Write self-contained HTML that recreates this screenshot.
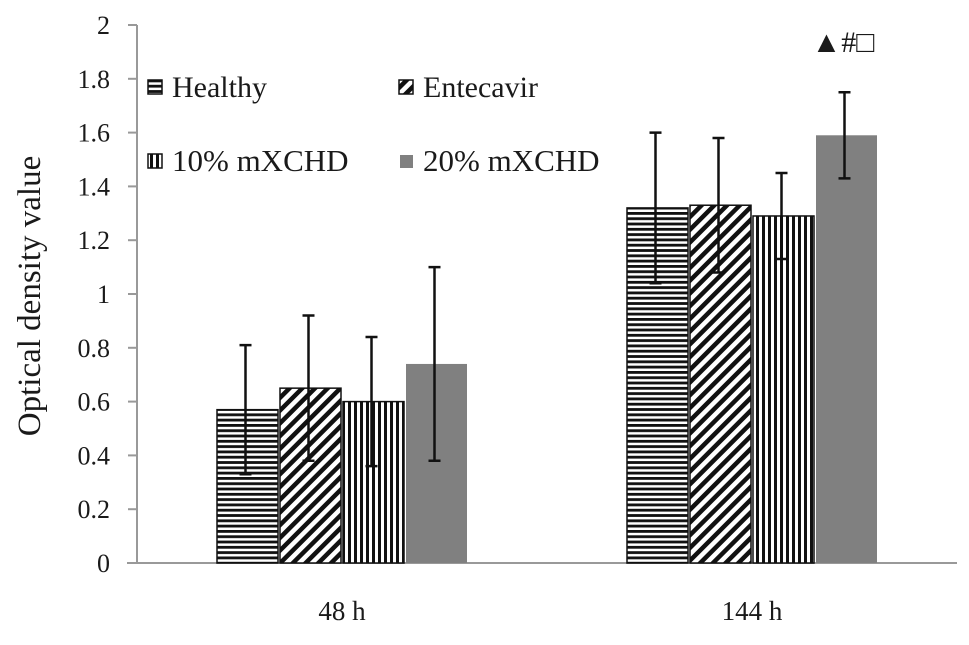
<!DOCTYPE html>
<html><head><meta charset="utf-8"><style>
body{margin:0;background:#fff}
svg text{font-family:"Liberation Serif",serif;fill:#1a1a1a}
</style></head><body>
<svg id="chart" width="969" height="640" xmlns="http://www.w3.org/2000/svg">
<defs>
<pattern id="pH" width="6" height="5.3" patternUnits="userSpaceOnUse"><rect width="6" height="5.3" fill="#fff"/><rect width="6" height="2.8" fill="#111"/></pattern>
<pattern id="pD" width="9" height="9" patternUnits="userSpaceOnUse" patternTransform="rotate(45)"><rect width="9" height="9" fill="#fff"/><rect width="4.5" height="9" fill="#111"/></pattern>
<pattern id="pV" width="6" height="6" patternUnits="userSpaceOnUse"><rect width="6" height="6" fill="#fff"/><rect width="3" height="6" fill="#111"/></pattern>
</defs>
<g id="axes"></g><g id="bars"></g>
<text transform="translate(40,296) rotate(-90)" text-anchor="middle" font-size="33">Optical density value</text>
<text x="843" y="52" text-anchor="middle" font-size="30">▲#□</text>
<g>
<rect x="148" y="80" width="14" height="14" fill="url(#pH)" stroke="#111" stroke-width="1.5"/>
<text x="172" y="97" font-size="30">Healthy</text>
<rect x="399" y="80" width="14" height="14" fill="url(#pD)" stroke="#111" stroke-width="1.5"/>
<text x="423" y="97" font-size="30">Entecavir</text>
<rect x="148" y="154" width="14" height="14" fill="url(#pV)" stroke="#111" stroke-width="1.5"/>
<text x="172" y="171" font-size="31">10% mXCHD</text>
<rect x="400" y="155" width="13" height="13" fill="#808080"/>
<text x="423" y="171" font-size="31">20% mXCHD</text>
</g>
</svg>
<script>
const categories=["48 h","144 h"];
const healthy=[0.57,1.32];
const entecavir=[0.65,1.33];
const mx10=[0.60,1.29];
const mx20=[0.74,1.59];
const errHealthy=[0.24,0.28];
const errEntecavir=[0.27,0.25];
const errMx10=[0.24,0.16];
const errMx20=[0.36,0.16];
const yTicks=[0,0.2,0.4,0.6,0.8,1,1.2,1.4,1.6,1.8,2];
const tickLabels=["0","0.2","0.4","0.6","0.8","1","1.2","1.4","1.6","1.8","2"];

const NS="http://www.w3.org/2000/svg";
const y0=563,yTop=25,xL=137,band=410;
const y=v=>y0-(v-0)/(2-0)*(y0-yTop);
const xc=i=>xL+band*i+band/2;
function mk(t,a,p){const e=document.createElementNS(NS,t);for(const k in a)e.setAttribute(k,a[k]);p.appendChild(e);return e;}
const ax=document.getElementById('axes');
const yl=mk('line',{x1:xL,y1:yTop,x2:xL,y2:y0,stroke:'#999','stroke-width':2},ax);


const xl=mk('line',{x1:xL-10,y1:y0,x2:957,y2:y0,stroke:'#999','stroke-width':2},ax);


yTicks.forEach((v,i)=>{
  const tk=mk('line',{x1:xL-9,y1:y(v),x2:xL,y2:y(v),stroke:'#999','stroke-width':2},ax);
  
  
  const t=mk('text',{x:110,y:y(v)+9,'text-anchor':'end','font-size':26},ax);
  t.textContent=tickLabels[i];
  
  
});
categories.forEach((c,i)=>{
  const t=mk('text',{x:xc(i),y:620,'text-anchor':'middle','font-size':27},ax);
  t.textContent=c;
  
  
});
const series=[[healthy,errHealthy,'url(#pH)','healthy'],[entecavir,errEntecavir,'url(#pD)','entecavir'],[mx10,errMx10,'url(#pV)','10pct'],[mx20,errMx20,'#808080','20pct']];
const g=document.getElementById('bars');
const bw=63;
categories.forEach((c,i)=>{
  series.forEach((s,j)=>{
    const x=xc(i)-2*bw+j*bw;
    const v=s[0][i],e=s[1][i];
    const r=mk('rect',{x:x+1,y:y(v),width:bw-2,height:y0-y(v),fill:s[2]},g);
    if(j<3){r.setAttribute('stroke','#111');r.setAttribute('stroke-width','1.5');}
    
    
    const cx=x+bw/2-2;
    const eb=mk('path',{d:`M${cx},${y(v+e)}V${y(v-e)}M${cx-6},${y(v+e)}H${cx+6}M${cx-6},${y(v-e)}H${cx+6}`,stroke:'#111','stroke-width':2.5,fill:'none'},g);
    
    
  });
});
</script>
</body></html>
